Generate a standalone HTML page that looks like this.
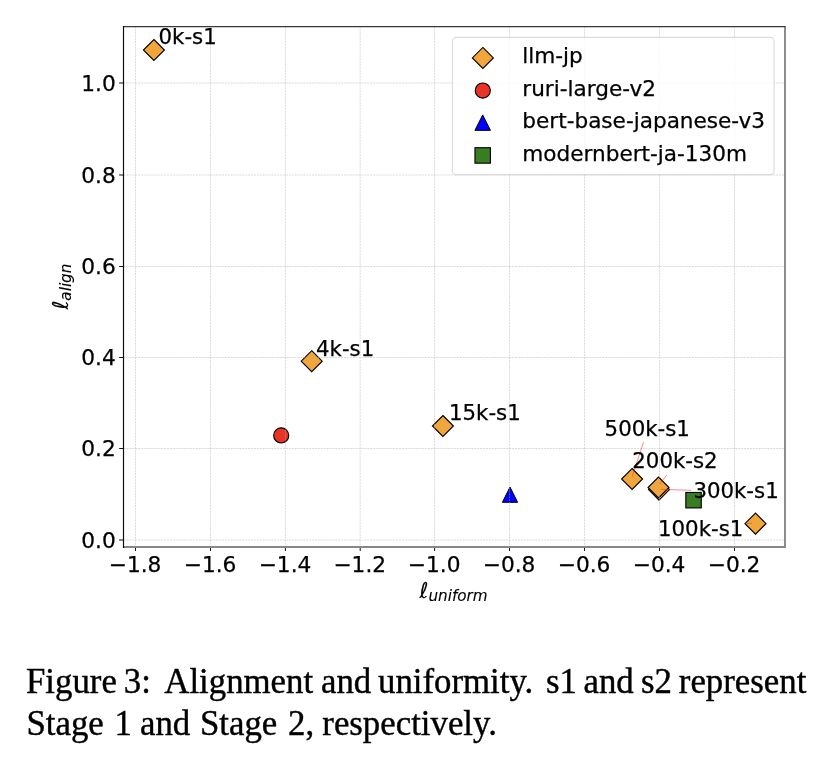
<!DOCTYPE html>
<html lang="en"><head><meta charset="utf-8"><title>Figure 3</title>
<style>
html,body{margin:0;padding:0;background:#fff;}
body{width:832px;height:770px;overflow:hidden;position:relative;}
svg{position:absolute;left:0;top:0;display:block;}
.t{font-family:"DejaVu Sans","Liberation Sans",sans-serif;font-size:21.7px;fill:#000;stroke:#000;stroke-width:0.25px;}
.an{font-size:21.3px;}
.lab{stroke-width:0.1px;}
.cap{font-family:"Liberation Serif","Times New Roman",serif;font-size:34.8px;fill:#000;stroke:#000;stroke-width:0.4px;}
</style></head><body>
<svg width="832" height="770" viewBox="0 0 832 770">
<rect x="0" y="0" width="832" height="770" fill="#ffffff"/>
<g id="markers">
<path d="M153.90 39.50 L164.40 50.00 L153.90 60.50 L143.40 50.00 Z" fill="#f1a63b" stroke="#000" stroke-width="1.12" stroke-linejoin="miter"/>
<path d="M311.70 350.70 L322.20 361.20 L311.70 371.70 L301.20 361.20 Z" fill="#f1a63b" stroke="#000" stroke-width="1.12" stroke-linejoin="miter"/>
<path d="M442.90 415.50 L453.40 426.00 L442.90 436.50 L432.40 426.00 Z" fill="#f1a63b" stroke="#000" stroke-width="1.12" stroke-linejoin="miter"/>
<path d="M632.10 468.50 L642.60 479.00 L632.10 489.50 L621.60 479.00 Z" fill="#f1a63b" stroke="#000" stroke-width="1.12" stroke-linejoin="miter"/>
<path d="M755.50 513.15 L766.00 523.65 L755.50 534.15 L745.00 523.65 Z" fill="#f1a63b" stroke="#000" stroke-width="1.12" stroke-linejoin="miter"/>
<path d="M659.00 479.10 L669.50 489.60 L659.00 500.10 L648.50 489.60 Z" fill="#f1a63b" stroke="#000" stroke-width="1.12" stroke-linejoin="miter"/>
<path d="M658.50 477.00 L669.00 487.50 L658.50 498.00 L648.00 487.50 Z" fill="#f1a63b" stroke="#000" stroke-width="1.12" stroke-linejoin="miter"/>
<circle cx="281.20" cy="435.40" r="7.56" fill="#e93324" stroke="#000" stroke-width="1.12"/>
<path d="M510.00 487.10 L517.60 502.30 L502.40 502.30 Z" fill="#0000ff" stroke="#000" stroke-width="1.0"/>
<rect x="685.82" y="492.47" width="15.45" height="15.45" fill="#387d22" stroke="#000" stroke-width="1.12"/>
</g>
<g id="grid" stroke="#b0b0b0" stroke-opacity="0.46" stroke-width="1" stroke-dasharray="2 0.9" fill="none">
<line x1="135.50" y1="26.50" x2="135.50" y2="547.00"/>
<line x1="210.50" y1="26.50" x2="210.50" y2="547.00"/>
<line x1="285.40" y1="26.50" x2="285.40" y2="547.00"/>
<line x1="360.20" y1="26.50" x2="360.20" y2="547.00"/>
<line x1="434.60" y1="26.50" x2="434.60" y2="547.00"/>
<line x1="509.50" y1="26.50" x2="509.50" y2="547.00"/>
<line x1="584.50" y1="26.50" x2="584.50" y2="547.00"/>
<line x1="659.50" y1="26.50" x2="659.50" y2="547.00"/>
<line x1="734.50" y1="26.50" x2="734.50" y2="547.00"/>
<line x1="123.50" y1="540.00" x2="785.00" y2="540.00"/>
<line x1="123.50" y1="448.50" x2="785.00" y2="448.50"/>
<line x1="123.50" y1="357.50" x2="785.00" y2="357.50"/>
<line x1="123.50" y1="266.50" x2="785.00" y2="266.50"/>
<line x1="123.50" y1="175.00" x2="785.00" y2="175.00"/>
<line x1="123.50" y1="83.00" x2="785.00" y2="83.00"/>
</g>
<g id="ticks" stroke="#1a1a1a" stroke-width="1.05" fill="none">
<line x1="135.50" y1="547.00" x2="135.50" y2="551.00"/>
<line x1="210.50" y1="547.00" x2="210.50" y2="551.00"/>
<line x1="285.40" y1="547.00" x2="285.40" y2="551.00"/>
<line x1="360.20" y1="547.00" x2="360.20" y2="551.00"/>
<line x1="434.60" y1="547.00" x2="434.60" y2="551.00"/>
<line x1="509.50" y1="547.00" x2="509.50" y2="551.00"/>
<line x1="584.50" y1="547.00" x2="584.50" y2="551.00"/>
<line x1="659.50" y1="547.00" x2="659.50" y2="551.00"/>
<line x1="734.50" y1="547.00" x2="734.50" y2="551.00"/>
<line x1="119.10" y1="540.00" x2="123.50" y2="540.00"/>
<line x1="119.10" y1="448.50" x2="123.50" y2="448.50"/>
<line x1="119.10" y1="357.50" x2="123.50" y2="357.50"/>
<line x1="119.10" y1="266.50" x2="123.50" y2="266.50"/>
<line x1="119.10" y1="175.00" x2="123.50" y2="175.00"/>
<line x1="119.10" y1="83.00" x2="123.50" y2="83.00"/>
</g>
<g id="spines" fill="none" stroke-linecap="butt">
<line x1="785.00" y1="26.50" x2="785.00" y2="547.95" stroke="#878787" stroke-width="1.9"/>
<line x1="123.50" y1="547.00" x2="785.00" y2="547.00" stroke="#878787" stroke-width="1.9"/>
<line x1="123.50" y1="26.50" x2="785.50" y2="26.50" stroke="#383838" stroke-width="1.25"/>
<line x1="123.50" y1="25.90" x2="123.50" y2="547.95" stroke="#0c0c0c" stroke-width="1.15"/>
</g>
<g id="arrows" stroke="#f02a2a" stroke-width="0.9" fill="none" opacity="0.6">
<line x1="643.5" y1="442.2" x2="632.2" y2="476.5"/>
<line x1="666.9" y1="475.0" x2="659.5" y2="484.3"/>
<line x1="691.0" y1="490.3" x2="661.3" y2="489.4"/>
<line x1="747.2" y1="523.7" x2="752.0" y2="523.2"/>
</g>
<g id="ticklabels">
<text class="t" x="135.10" y="571.5" text-anchor="middle">−1.8</text>
<text class="t" x="210.10" y="571.5" text-anchor="middle">−1.6</text>
<text class="t" x="285.00" y="571.5" text-anchor="middle">−1.4</text>
<text class="t" x="359.80" y="571.5" text-anchor="middle">−1.2</text>
<text class="t" x="434.20" y="571.5" text-anchor="middle">−1.0</text>
<text class="t" x="509.10" y="571.5" text-anchor="middle">−0.8</text>
<text class="t" x="584.10" y="571.5" text-anchor="middle">−0.6</text>
<text class="t" x="659.10" y="571.5" text-anchor="middle">−0.4</text>
<text class="t" x="734.10" y="571.5" text-anchor="middle">−0.2</text>
<text class="t" x="115.8" y="547.60" text-anchor="end">0.0</text>
<text class="t" x="115.8" y="456.10" text-anchor="end">0.2</text>
<text class="t" x="115.8" y="365.10" text-anchor="end">0.4</text>
<text class="t" x="115.8" y="274.10" text-anchor="end">0.6</text>
<text class="t" x="115.8" y="182.60" text-anchor="end">0.8</text>
<text class="t" x="115.8" y="90.60" text-anchor="end">1.0</text>
</g>
<text class="t lab" x="419.5" y="598.3">ℓ<tspan dy="2.6" font-size="15.19px" font-style="italic">uniform</tspan></text>
<text class="t lab" transform="translate(68.3 309.6) rotate(-90)">ℓ<tspan dy="2.6" font-size="15.19px" font-style="italic">align</tspan></text>
<text class="t an" x="158.5" y="44.4">0k-s1</text>
<text class="t an" x="316.0" y="355.8">4k-s1</text>
<text class="t an" x="449.0" y="419.8">15k-s1</text>
<text class="t an" x="604.6" y="435.7">500k-s1</text>
<text class="t an" x="632.3" y="468.0">200k-s2</text>
<text class="t an" x="693.4" y="497.9">300k-s1</text>
<text class="t an" x="658.0" y="536.3">100k-s1</text>
<g id="legend">
<rect x="452.4" y="37.4" width="321.7" height="137.2" rx="3.8" ry="3.8" fill="#ffffff" fill-opacity="0.8" stroke="#d4d4d4" stroke-opacity="0.8" stroke-width="1.2"/>
<path d="M482.85 47.45 L493.35 57.95 L482.85 68.45 L472.35 57.95 Z" fill="#f1a63b" stroke="#000" stroke-width="1.12" stroke-linejoin="miter"/>
<circle cx="482.80" cy="90.60" r="7.56" fill="#e93324" stroke="#000" stroke-width="1.12"/>
<path d="M482.70 114.90 L490.45 130.35 L474.95 130.35 Z" fill="#0000ff" stroke="#000" stroke-width="1.0"/>
<rect x="474.97" y="147.72" width="15.45" height="15.45" fill="#387d22" stroke="#000" stroke-width="1.12"/>
<text class="t" style="font-size:21.6px" x="522.3" y="62.9">llm-jp</text>
<text class="t" style="font-size:21.6px" x="522.3" y="95.6">ruri-large-v2</text>
<text class="t" style="font-size:21.6px" x="522.3" y="128.4">bert-base-japanese-v3</text>
<text class="t" style="font-size:21.6px" x="522.3" y="160.9">modernbert-ja-130m</text>
</g>
<text class="cap" y="692.5"><tspan x="26.0">Figure </tspan><tspan x="123.8">3: </tspan><tspan x="164.3">Alignment </tspan><tspan x="321.0">and </tspan><tspan x="378.0">uniformity. </tspan><tspan x="546.0">s1 </tspan><tspan x="583.5">and </tspan><tspan x="641.0">s2 </tspan><tspan x="678.8">represent </tspan></text>
<text class="cap" y="735.3"><tspan x="26.5">Stage </tspan><tspan x="114.5">1 </tspan><tspan x="140.0">and </tspan><tspan x="200.0">Stage </tspan><tspan x="288.0">2, </tspan><tspan x="322.3">respectively. </tspan></text>
</svg>
</body></html>
